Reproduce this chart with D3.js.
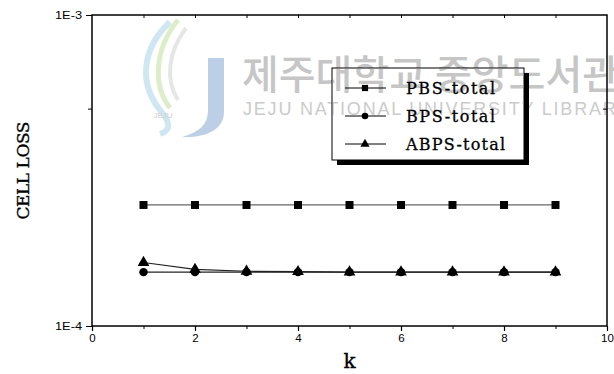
<!DOCTYPE html>
<html>
<head>
<meta charset="utf-8">
<script src="https://cdn.jsdelivr.net/npm/d3@7"></script>
<style>
  html, body { margin: 0; padding: 0; background: #fff; }
  svg { display: block; }
</style>
</head>
<body>
<svg id="chart" width="614" height="374"></svg>
<script>
// Cell loss versus k for the three buffer-sharing schemes
const kValues = [1, 2, 3, 4, 5, 6, 7, 8, 9];
const pbsTotal = [2.45e-4, 2.45e-4, 2.45e-4, 2.45e-4, 2.45e-4, 2.45e-4, 2.45e-4, 2.45e-4, 2.45e-4];
const bpsTotal = [1.49e-4, 1.49e-4, 1.49e-4, 1.49e-4, 1.49e-4, 1.49e-4, 1.49e-4, 1.49e-4, 1.49e-4];
const abpsTotal = [1.60e-4, 1.52e-4, 1.50e-4, 1.495e-4, 1.49e-4, 1.49e-4, 1.49e-4, 1.49e-4, 1.49e-4];
const seriesNames = ["PBS-total", "BPS-total", "ABPS-total"];
const xTickLabels = [0, 2, 4, 6, 8, 10];
const yTickLabels = ["1E-4", "1E-3"];
const yTickValues = [1e-4, 1e-3];

const svg = d3.select("#chart");
const margin = { left: 92, right: 7, top: 15, bottom: 48 };
const W = 614, H = 374;
const x = d3.scaleLinear().domain([0, 10]).range([margin.left, W - margin.right]);
const y = d3.scaleLog().domain([1e-4, 1e-3]).range([H - margin.bottom, margin.top]);

const typeFont = "DejaVu Serif, serif";
const labelFont = "Liberation Sans, Arial, sans-serif";
const krText = "제주대학교 중앙도서관";
const enText = "JEJU NATIONAL UNIVERSITY LIBRARY";

// Library watermark drawn behind everything
const wm = svg.append("g").attr("class", "watermark");
wm.append("path")
  .attr("d", "M170,22 C140,50 140,85 160,110 C170,122 172,130 160,134")
  .attr("fill", "none").attr("stroke", "#c2e1ef").attr("stroke-width", 6).attr("opacity", 0.8);
wm.append("path")
  .attr("d", "M178,20 C155,48 152,85 170,108")
  .attr("fill", "none").attr("stroke", "#d6e8bc").attr("stroke-width", 5).attr("opacity", 0.8);
wm.append("path")
  .attr("d", "M186,28 C168,52 165,80 178,100")
  .attr("fill", "none").attr("stroke", "#e6e6e6").attr("stroke-width", 4);
wm.append("path")
  .attr("d", "M208,58 L224,58 L224,112 C224,130 205,138 182,137 C200,132 208,124 208,110 Z")
  .attr("fill", "#bccfe7");
wm.append("text").attr("x", 163).attr("y", 118).attr("text-anchor", "middle")
  .style("font-family", labelFont).style("font-size", "8px")
  .attr("fill", "#cdcdcd").text("JEJU");

function watermarkText(g) {
  g.append("text").attr("x", 242).attr("y", 89)
    .style("font-family", "Noto Sans CJK KR, sans-serif").style("font-size", "40px").style("font-weight", 500)
    .attr("fill", "#c6c6c6").text(krText);
  g.append("text").attr("x", 243).attr("y", 115)
    .style("font-family", labelFont).style("font-size", "18px")
    .style("letter-spacing", "1.8px")
    .attr("fill", "#cbcbcb").text(enText);
}
watermarkText(wm);

// Frame
svg.append("rect")
  .attr("x", x(0)).attr("y", y(1e-3))
  .attr("width", x(10) - x(0)).attr("height", y(1e-4) - y(1e-3))
  .attr("fill", "none").attr("stroke", "#000").attr("stroke-width", 1.5);

// Bottom axis: labelled even ticks outward, minor odd ticks
const xAxis = d3.axisBottom(x).tickValues(xTickLabels).tickSize(5).tickSizeOuter(0).tickFormat(d3.format("d"));
const gx = svg.append("g").attr("transform", `translate(0,${y(1e-4)})`).call(xAxis);
gx.select(".domain").remove();
gx.selectAll("line").attr("stroke-width", 1.2);
gx.selectAll("text").style("font-family", labelFont).style("font-size", "11.5px");
const gxMinor = svg.append("g").attr("transform", `translate(0,${y(1e-4)})`)
  .call(d3.axisBottom(x).tickValues([1, 3, 5, 7, 9]).tickSize(3).tickFormat(""));
gxMinor.select(".domain").remove();

// Top axis ticks pointing inward
const gt = svg.append("g").attr("transform", `translate(0,${y(1e-3)})`)
  .call(d3.axisBottom(x).tickValues(d3.range(1, 10)).tickSize(3).tickFormat(""));
gt.select(".domain").remove();

// Left axis
const yAxis = d3.axisLeft(y).tickValues(yTickValues).tickSize(6).tickSizeOuter(0)
  .tickFormat((d, i) => yTickLabels[i]);
const gy = svg.append("g").attr("transform", `translate(${x(0)},0)`).call(yAxis);
gy.select(".domain").remove();
gy.selectAll("text").style("font-family", labelFont).style("font-size", "11.5px")
  .attr("textLength", 27).attr("lengthAdjust", "spacingAndGlyphs").attr("dx", "-1");
const gyMinor = svg.append("g").attr("transform", `translate(${x(0)},0)`)
  .call(d3.axisLeft(y).tickValues([5e-4]).tickSize(4).tickFormat(""));
gyMinor.select(".domain").remove();
// Right axis minor tick pointing inward
const gr = svg.append("g").attr("transform", `translate(${x(10)},0)`)
  .call(d3.axisLeft(y).tickValues([5e-4]).tickSize(4).tickFormat(""));
gr.select(".domain").remove();

// Axis titles
svg.append("text")
  .attr("transform", `translate(29,${(y(1e-3) + y(1e-4)) / 2}) rotate(-90)`)
  .attr("text-anchor", "middle")
  .style("font-family", typeFont)
  .style("font-size", "17px").attr("textLength", 98).attr("lengthAdjust", "spacing")
  .attr("stroke", "#000").attr("stroke-width", 0.35)
  .text("CELL LOSS");
svg.append("text")
  .attr("x", (x(0) + x(10)) / 2).attr("y", 368)
  .attr("text-anchor", "middle")
  .style("font-family", typeFont)
  .attr("stroke", "#000").attr("stroke-width", 0.35)
  .style("font-size", "20px").text("k");

// Series
const series = [
  { name: seriesNames[0], values: pbsTotal, symbol: d3.symbolSquare, size: 64, lineColor: "#666" },
  { name: seriesNames[1], values: bpsTotal, symbol: d3.symbolCircle, size: 56, lineColor: "#222" },
  { name: seriesNames[2], values: abpsTotal, symbol: d3.symbolTriangle, size: 60, lineColor: "#222" }
];
const line = d3.line().x((d, i) => x(kValues[i])).y(d => y(d));

series.forEach(s => {
  svg.append("path").datum(s.values)
    .attr("d", line).attr("fill", "none").attr("stroke", s.lineColor).attr("stroke-width", 1.2);
});
series.forEach(s => {
  svg.append("g").selectAll("path").data(s.values).join("path")
    .attr("transform", (d, i) => `translate(${x(kValues[i])},${y(d)})`)
    .attr("d", d3.symbol().type(s.symbol).size(s.size))
    .attr("fill", "#000");
});

// Legend with drop shadow
const lg = { x: 332, y: 68, w: 192, h: 92 };
svg.append("clipPath").attr("id", "lgclip").append("rect")
  .attr("x", lg.x + 1).attr("y", lg.y + 1).attr("width", lg.w - 2).attr("height", lg.h - 2);
svg.append("rect").attr("x", lg.x + 5).attr("y", lg.y + 5).attr("width", lg.w).attr("height", lg.h).attr("fill", "#000");
svg.append("rect").attr("x", lg.x).attr("y", lg.y).attr("width", lg.w).attr("height", lg.h)
  .attr("fill", "#fff").attr("stroke", "#000").attr("stroke-width", 1);
// Watermark shows through the legend box
watermarkText(svg.append("g").attr("clip-path", "url(#lgclip)"));

const rowsY = [88, 116, 144];
series.forEach((s, i) => {
  const g = svg.append("g").attr("transform", `translate(0,${rowsY[i]})`);
  g.append("line").attr("x1", 345).attr("x2", 386).attr("y1", 0).attr("y2", 0)
    .attr("stroke", "#000").attr("stroke-width", 1);
  g.append("path").attr("transform", "translate(365,0)")
    .attr("d", d3.symbol().type(s.symbol).size(s.size * 0.6)).attr("fill", "#000");
  g.append("text").attr("x", 406).attr("y", 0).attr("dy", "0.35em")
    .style("font-family", typeFont)
    .style("font-size", "16px").attr("textLength", s.name.length * 9.9).attr("lengthAdjust", "spacing")
    .attr("stroke", "#000").attr("stroke-width", 0.3)
    .text(s.name);
});
</script>
</body>
</html>
